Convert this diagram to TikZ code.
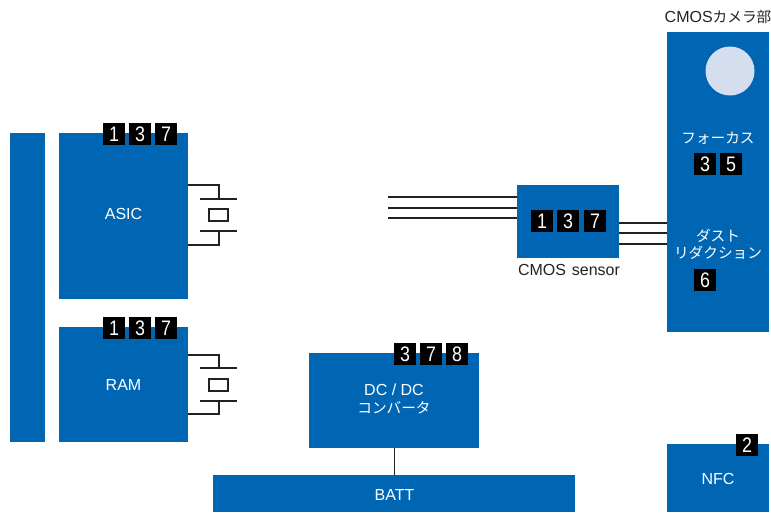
\documentclass[tikz,border=0pt]{standalone}
\usepackage{fontspec}
\setmainfont{Liberation Sans}
\newfontfamily\jp{Noto Sans CJK JP}[Scale=0.915]
\newfontfamily\dig{Liberation Sans}[FakeStretch=0.85]
\definecolor{blk}{HTML}{0066B3}
\definecolor{lens}{HTML}{D5DEEF}
\definecolor{ink}{HTML}{222222}
\tikzset{
  x=1pt,y=-1pt,
  box/.style={fill=blk,draw=none,inner sep=0pt,anchor=north west},
  badge/.style={fill=black,text=white,minimum width=22pt,minimum height=22pt,inner sep=0pt,anchor=north west,font=\dig\fontsize{21}{21}\selectfont},
  wire/.style={draw=ink,line width=1.2pt},
  plabel/.style={text=ink,inner sep=0pt,font=\fontsize{16}{17}\selectfont},
  blabel/.style={text=white,inner sep=0pt,align=center,font=\fontsize{16}{17}\selectfont}
}
\newcommand{\mkbox}[5]{\node[box,minimum width=#4pt,minimum height=#5pt] (#1) at (#2,#3) {};}
\newcommand{\mkbadge}[4]{\node[badge] (#1) at (#2,#3) {#4};}
\newcommand{\capac}[5]{%
  \coordinate (#1a) at (188,#2);
  \coordinate (#1b) at (219,#2);
  \coordinate (#1c) at (219,#3);
  \coordinate (#1d) at (200,#3);
  \coordinate (#1e) at (237,#3);
  \coordinate (#1f) at (200,#4);
  \coordinate (#1g) at (237,#4);
  \coordinate (#1h) at (219,#4);
  \coordinate (#1i) at (219,#5);
  \coordinate (#1j) at (188,#5);
  \draw[wire] (#1a) -- (#1b) -- (#1c);
  \draw[wire] (#1d) -- (#1e);
  \draw[wire] (#1f) -- (#1g);
  \draw[wire] (#1h) -- (#1i) -- (#1j);
}
\begin{document}
\begin{tikzpicture}
\useasboundingbox (0,0) rectangle (771,512);
\mkbox{bus}{10}{133}{35}{309}
\mkbox{asic}{59}{133}{129}{166}
\mkbox{ram}{59}{327}{129}{115}
\mkbox{sensor}{517}{185}{102}{73}
\mkbox{camera}{667}{32}{102}{300}
\mkbox{dc}{309}{353}{170}{95}
\mkbox{batt}{213}{475}{362}{37}
\mkbox{nfc}{667}{444}{102}{68}
% badges
\mkbadge{a1}{103}{123}{1}\mkbadge{a3}{129}{123}{3}\mkbadge{a7}{155}{123}{7}
\mkbadge{r1}{103}{317}{1}\mkbadge{r3}{129}{317}{3}\mkbadge{r7}{155}{317}{7}
\mkbadge{s1}{531}{210}{1}\mkbadge{s3}{557}{210}{3}\mkbadge{s7}{584}{210}{7}
\mkbadge{f3}{694}{153}{3}\mkbadge{f5}{720}{153}{5}
\mkbadge{d6}{694}{269}{6}
\mkbadge{c3}{394}{343}{3}\mkbadge{c7}{420}{343}{7}\mkbadge{c8}{446}{343}{8}
\mkbadge{n2}{736}{434}{2}
% crystal symbols
\capac{x}{185}{199}{231}{245}
\node[draw=ink,line width=1.2pt,fill=white,minimum width=19pt,minimum height=12pt,inner sep=0pt] (xr) at (218.5,215) {};
\capac{y}{355}{368}{401}{414}
\node[draw=ink,line width=1.2pt,fill=white,minimum width=19pt,minimum height=12pt,inner sep=0pt] (yr) at (218.5,385) {};
% sensor wires
\coordinate (l1) at (388,197);\coordinate (l2) at (388,208);\coordinate (l3) at (388,218);
\draw[wire] (l1) -- (l1-|sensor.west);
\draw[wire] (l2) -- (l2-|sensor.west);
\draw[wire] (l3) -- (l3-|sensor.west);
\coordinate (m1) at (619,223);\coordinate (m2) at (619,233);\coordinate (m3) at (619,244);
\draw[wire] (m1) -- (m1-|camera.west);
\draw[wire] (m2) -- (m2-|camera.west);
\draw[wire] (m3) -- (m3-|camera.west);
\draw[wire] (dc.south) -- (batt.north);
% lens and labels
\node[circle,fill=lens,draw=none,minimum size=49pt,inner sep=0pt] (lensc) at (730,71) {};
\node[blabel] (asiclabel) at (123.5,214) {ASIC};
\node[blabel] (ramlabel) at (123.5,385) {RAM};
\node[blabel] (dclabel) at (394,390) {DC / DC};
\node[blabel] (convlabel) at (394,408) {\jp コンバータ};
\node[blabel] (battlabel) at (394.5,495) {BATT};
\node[blabel] (nfclabel) at (718,479) {NFC};
\node[plabel] (camlabel) at (718,17) {CMOS{\jp カメラ部}};
\node[plabel] (senslabel) at (569,270) {CMOS\hspace{1.5pt} sensor};
\node[blabel] (focus) at (718,138.5) {\jp フォーカス};
\node[blabel] (dust) at (718,244.5) {\jp ダスト\\\jp リダクション};
\end{tikzpicture}
\end{document}
